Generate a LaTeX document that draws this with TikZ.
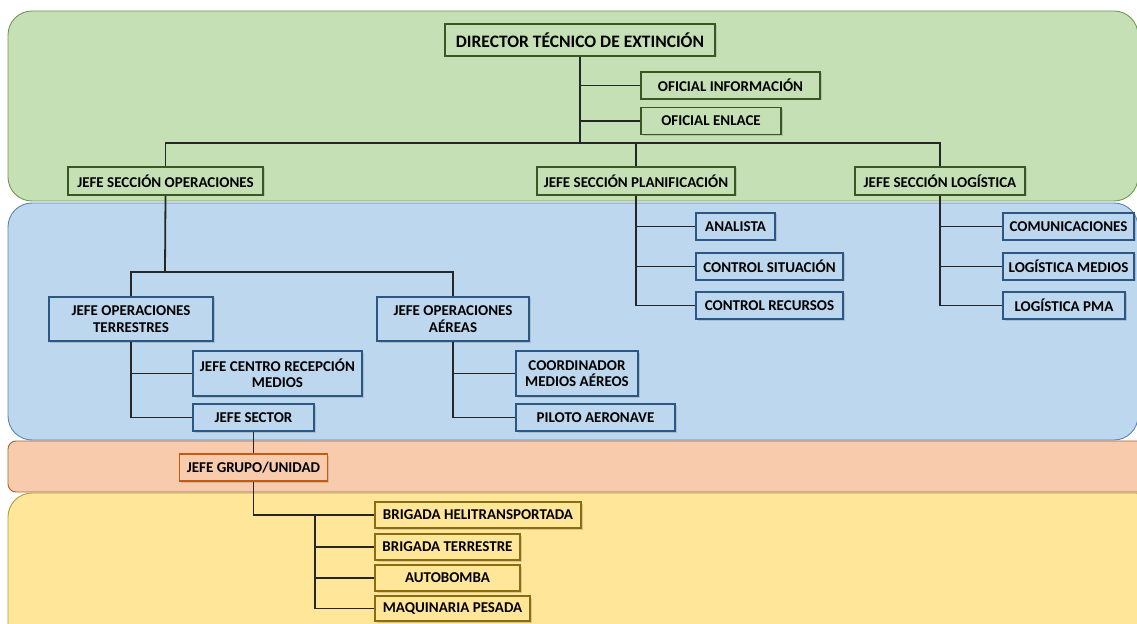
\documentclass[tikz,border=0pt]{standalone}
\usepackage{fontspec}
\setmainfont{Carlito}
\usepackage{tikz}
\usetikzlibrary{shadows}

\definecolor{bandgreen}{HTML}{C5E0B4}
\definecolor{edgegreen}{HTML}{6E9A52}
\definecolor{boxgreen}{HTML}{385723}
\definecolor{bandblue}{HTML}{BDD7EE}
\definecolor{edgeblue}{HTML}{5A86B4}
\definecolor{boxblue}{HTML}{2A5783}
\definecolor{bandorange}{HTML}{F8CBAD}
\definecolor{edgeorange}{HTML}{A8643A}
\definecolor{boxorange}{HTML}{C55A11}
\definecolor{bandyellow}{HTML}{FFE699}
\definecolor{edgeyellow}{HTML}{B89A3A}
\definecolor{boxyellow}{HTML}{8A6D10}

\begin{document}
\begin{tikzpicture}[x=1bp, y=-1bp,
    band/.style={line width=0.9bp, rounded corners=24bp},
    role/.style={draw, line width=1.6bp, inner sep=0pt, align=center,
      font=\fontsize{15bp}{16.5bp}\selectfont\bfseries,
      drop shadow={shadow xshift=1.5bp, shadow yshift=-1.5bp, opacity=.3}},
    grole/.style={role, draw=boxgreen, fill=bandgreen},
    brole/.style={role, draw=boxblue, fill=bandblue},
    orole/.style={role, draw=boxorange, fill=bandorange},
    yrole/.style={role, draw=boxyellow, fill=bandyellow},
    link/.style={line width=1.8bp, draw=black!85}]

  \useasboundingbox (0,0) rectangle (1137,624);
  \clip (0,0) rectangle (1137,624);

  % levels
  \draw[band, draw=edgegreen, fill=bandgreen] (8,11) rectangle (1138,201);
  \draw[band, draw=edgeblue, fill=bandblue] (8,203) rectangle (1138,440);
  \draw[band, rounded corners=8bp, draw=edgeorange, fill=bandorange] (8,441) rectangle (1160,492);
  \draw[band, draw=edgeyellow, fill=bandyellow] (8,493) rectangle (1160,680);

  \newcommand\RH{27bp}

  \node[grole, minimum width=270bp, minimum height=32bp,
    font=\fontsize{17.5bp}{19bp}\selectfont\bfseries] (dir) at (580,40) {DIRECTOR TÉCNICO DE EXTINCIÓN};
  \node[grole, minimum width=179bp, minimum height=\RH] (ofinf) at (730.5,85.5) {OFICIAL INFORMACIÓN};
  \node[grole, minimum width=140bp, minimum height=\RH] (ofenl) at (711,121) {OFICIAL ENLACE};

  \node[grole, minimum width=195bp, minimum height=28bp] (ops) at (165.5,181) {JEFE SECCIÓN OPERACIONES};
  \node[grole, minimum width=198bp, minimum height=28bp] (plan) at (636,181) {JEFE SECCIÓN PLANIFICACIÓN};
  \node[grole, minimum width=170bp, minimum height=28bp] (logi) at (940,181) {JEFE SECCIÓN LOGÍSTICA};

  \node[brole, minimum width=164bp, minimum height=44bp] (terr) at (131,319) {JEFE OPERACIONES\\TERRESTRES};
  \node[brole, minimum width=152bp, minimum height=44bp] (aer) at (453,319) {JEFE OPERACIONES\\AÉREAS};
  \node[brole, minimum width=169bp, minimum height=45bp] (crm) at (277.5,373.5) {JEFE CENTRO RECEPCIÓN\\MEDIOS};
  \node[brole, minimum width=121bp, minimum height=\RH] (sect) at (253.5,417.5) {JEFE SECTOR};
  \node[brole, minimum width=122bp, minimum height=45bp] (coord) at (577,373.5) {COORDINADOR\\MEDIOS AÉREOS};
  \node[brole, minimum width=159bp, minimum height=\RH] (pil) at (595.5,417.5) {PILOTO AERONAVE};

  \node[brole, minimum width=79bp, minimum height=\RH] (ana) at (735.5,226.5) {ANALISTA};
  \node[brole, minimum width=147bp, minimum height=\RH] (csit) at (769.5,266.5) {CONTROL SITUACIÓN};
  \node[brole, minimum width=147bp, minimum height=\RH] (crec) at (769.5,305.5) {CONTROL RECURSOS};
  \node[brole, minimum width=131bp, minimum height=\RH] (com) at (1068.5,226.5) {COMUNICACIONES};
  \node[brole, minimum width=131bp, minimum height=\RH] (lmed) at (1068.5,266.5) {LOGÍSTICA MEDIOS};
  \node[brole, minimum width=122bp, minimum height=\RH] (lpma) at (1064,305.5) {LOGÍSTICA PMA};

  \node[orole, minimum width=148bp, minimum height=\RH] (grp) at (253.5,467.5) {JEFE GRUPO/UNIDAD};

  \node[yrole, minimum width=206bp, minimum height=26bp] (bhel) at (478,515) {BRIGADA HELITRANSPORTADA};
  \node[yrole, minimum width=145bp, minimum height=26bp] (bter) at (447.5,547) {BRIGADA TERRESTRE};
  \node[yrole, minimum width=145bp, minimum height=26bp] (auto) at (447.5,578) {AUTOBOMBA};
  \node[yrole, minimum width=155bp, minimum height=25bp] (maq) at (452.5,608.5) {MAQUINARIA PESADA};

  \coordinate (bus) at (580,143);
  \coordinate (opsbus) at (165,272);
  \coordinate (unitbus) at (315,515);

  % top level
  \draw[link] (dir.south) -- (bus);
  \draw[link] (dir.south |- ofinf.west) -- (ofinf.west);
  \draw[link] (dir.south |- ofenl.west) -- (ofenl.west);
  \draw[link] (ops.north) |- (bus) -| (logi.north);
  \draw[link] (plan.north) -- (plan.north |- bus);

  % operations
  \draw[link] (ops.south) -- (opsbus);
  \draw[link] (terr.north) |- (opsbus) -| (aer.north);
  \draw[link] (terr.south) |- (sect.west);
  \draw[link] (terr.south |- crm.west) -- (crm.west);
  \draw[link] (aer.south) |- (pil.west);
  \draw[link] (aer.south |- coord.west) -- (coord.west);

  % planning and logistics
  \draw[link] (plan.south) |- (crec.west);
  \draw[link] (plan.south |- ana.west) -- (ana.west);
  \draw[link] (plan.south |- csit.west) -- (csit.west);
  \draw[link] (logi.south) |- (lpma.west);
  \draw[link] (logi.south |- com.west) -- (com.west);
  \draw[link] (logi.south |- lmed.west) -- (lmed.west);

  % units
  \draw[link] (sect.south) -- (grp.north);
  \draw[link] (grp.south) |- (bhel.west);
  \draw[link] (unitbus) |- (maq.west);
  \draw[link] (unitbus |- bter.west) -- (bter.west);
  \draw[link] (unitbus |- auto.west) -- (auto.west);

\end{tikzpicture}
\end{document}
